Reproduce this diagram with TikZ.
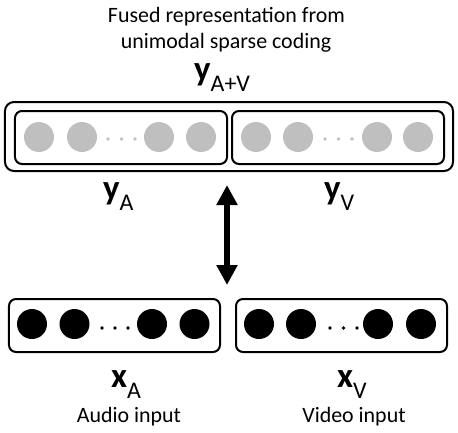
\documentclass[tikz,border=0pt]{standalone}
\usepackage{fontspec}
\setmainfont{Carlito}
\usetikzlibrary{arrows.meta}
\definecolor{cgrey}{RGB}{191,191,191}
\newcommand{\vlab}[2]{{\fontsize{35}{35}\selectfont\bfseries #1}\raisebox{-11.5bp}{\fontsize{24}{24}\selectfont #2}}
\tikzset{
  txt/.style={inner sep=0pt, font=\fontsize{22}{26}\selectfont},
  lab/.style={inner sep=0pt, anchor=base west},
  box/.style={draw, line width=2bp, rounded corners=9bp, inner sep=0pt},
  gc/.style={circle, fill=cgrey, minimum size=30bp, inner sep=0pt},
  bc/.style={circle, fill=black, minimum size=30bp, inner sep=0pt},
  gd/.style={circle, fill=cgrey, minimum size=3.6bp, inner sep=0pt},
  bd/.style={circle, fill=black, minimum size=3.6bp, inner sep=0pt},
  bigarrow/.style={line width=6bp, {Triangle[width=20bp,length=20bp]}-{Triangle[width=20bp,length=20bp]}}
}
\begin{document}
\begin{tikzpicture}[x=1bp,y=-1bp]
\useasboundingbox (0,0) rectangle (458,432);
% title
\node[txt, anchor=base] (t1) at (226.5,22) {Fused representation from};
\node[txt, anchor=base] (t2) at (226,48) {unimodal sparse coding};
% fused label
\node[lab] (yav) at (194,80) {\vlab{y}{A+V}};
% top boxes
\node[box, minimum width=448bp, minimum height=69bp] (outer) at (229,136.5) {};
\node[box, rounded corners=7bp, minimum width=212bp, minimum height=53bp] (ya) at (121,137.5) {};
\node[box, rounded corners=7bp, minimum width=212bp, minimum height=53bp] (yv) at (338,137.5) {};
% grey units
\node[gc] (g1) at (39,137) {};
\node[gc] (g2) at (82,137) {};
\node[gc] (g3) at (159,137) {};
\node[gc] (g4) at (201,137) {};
\node[gd] (gd1) at (108,139) {};
\node[gd] (gd2) at (121.5,139) {};
\node[gd] (gd3) at (135,139) {};
\node[gc] (g5) at (256,137) {};
\node[gc] (g6) at (298,137) {};
\node[gc] (g7) at (377,137) {};
\node[gc] (g8) at (418,137) {};
\node[gd] (gd4) at (325,139) {};
\node[gd] (gd5) at (338.5,139) {};
\node[gd] (gd6) at (352,139) {};
% y labels
\node[lab] (lya) at (103,199) {\vlab{y}{A}};
\node[lab] (lyv) at (324,199) {\vlab{y}{V}};
% arrow
\coordinate (atop) at (227,185);
\coordinate (abot) at (227,285);
\draw[bigarrow] (atop) -- (abot);
% bottom boxes
\node[box, rounded corners=7bp, minimum width=211bp, minimum height=53bp] (xa) at (114.5,325.5) {};
\node[box, rounded corners=7bp, minimum width=211bp, minimum height=53bp] (xv) at (341.5,325.5) {};
\node[bc] (b1) at (32,324) {};
\node[bc] (b2) at (74.5,324) {};
\node[bc] (b3) at (152,324) {};
\node[bc] (b4) at (194.5,324) {};
\node[bd] (bd1) at (102,328) {};
\node[bd] (bd2) at (115,328) {};
\node[bd] (bd3) at (128,328) {};
\node[bc] (b5) at (259,324) {};
\node[bc] (b6) at (301,324) {};
\node[bc] (b7) at (378,324) {};
\node[bc] (b8) at (421,324) {};
\node[bd] (bd4) at (330,328) {};
\node[bd] (bd5) at (343.5,328) {};
\node[bd] (bd6) at (357,328) {};
% x labels
\node[lab] (lxa) at (111,387) {\vlab{x}{A}};
\node[lab] (lxv) at (337,387) {\vlab{x}{V}};
\node[txt, anchor=base] (ain) at (129,422) {Audio input};
\node[txt, anchor=base] (vin) at (354,422) {Video input};
\end{tikzpicture}
\end{document}
